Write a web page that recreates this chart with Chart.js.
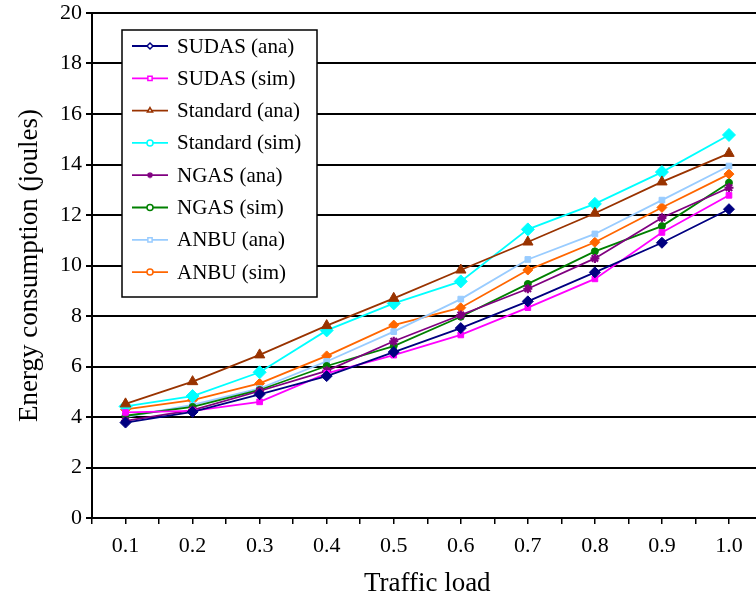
<!DOCTYPE html>
<html>
<head>
<meta charset="utf-8">
<script src="https://cdn.jsdelivr.net/npm/chart.js"></script>
<style>
  html, body { margin: 0; padding: 0; background: #fff; overflow: hidden; }
  #wrap { width: 770px; height: 600px; }
</style>
</head>
<body>
<div id="wrap"><canvas id="energyChart" width="770" height="600"></canvas></div>
<script>
// Traffic load categories (x axis labels)
const loads = ['0.1', '0.2', '0.3', '0.4', '0.5', '0.6', '0.7', '0.8', '0.9', '1.0'];

// Energy consumption (joules)
const sudasAna    = [3.78, 4.20, 4.90, 5.62, 6.57, 7.52, 8.58, 9.73, 10.90, 12.23];
const sudasSim    = [4.18, 4.24, 4.60, 5.73, 6.45, 7.25, 8.33, 9.47, 11.31, 12.78];
const standardAna = [4.52, 5.40, 6.46, 7.62, 8.70, 9.82, 10.93, 12.07, 13.31, 14.44];
const standardSim = [4.42, 4.83, 5.77, 7.43, 8.50, 9.37, 11.43, 12.44, 13.70, 15.17];
const ngasAna     = [3.85, 4.27, 5.03, 5.83, 7.00, 8.04, 9.08, 10.28, 11.89, 13.08];
const ngasSim     = [4.05, 4.40, 5.07, 6.02, 6.81, 7.97, 9.27, 10.56, 11.56, 13.28];
const anbuAna     = [4.00, 4.48, 5.13, 6.20, 7.38, 8.67, 10.24, 11.25, 12.59, 13.94];
const anbuSim     = [4.30, 4.67, 5.33, 6.42, 7.64, 8.33, 9.82, 10.92, 12.30, 13.62];

const yTicksMin = 0;
const yTicksMax = 20;
const yStep = 2;

const serif = '"Liberation Serif", "Times New Roman", serif';

const toPoints = (vals) => vals.map((v, i) => ({ x: parseFloat(loads[i]), y: v }));

function series(label, vals, color, style, radius, legendStyle) {
    return {
        label: label,
        data: toPoints(vals),
        borderColor: color,
        backgroundColor: color,
        borderWidth: 1.8,
        pointStyle: style,
        pointRadius: radius,
        pointBorderWidth: style === 'star' ? 2.2 : 1,
        pointBackgroundColor: color,
        pointBorderColor: color,
        legendStyle: legendStyle || style,
        tension: 0
    };
}

const datasets = [
    series('SUDAS (ana)', sudasAna, '#000080', 'rectRot', 5.5),
    series('SUDAS (sim)', sudasSim, '#ff00ff', 'rect', 4),
    series('Standard (ana)', standardAna, '#993300', 'triangle', 6),
    series('Standard (sim)', standardSim, '#00ffff', 'rectRot', 6.5, 'circle'),
    series('NGAS (ana)', ngasAna, '#800080', 'star', 4.5),
    series('NGAS (sim)', ngasSim, '#008000', 'circle', 3.5),
    series('ANBU (ana)', anbuAna, '#99ccff', 'rect', 4),
    series('ANBU (sim)', anbuSim, '#ff6600', 'rectRot', 5, 'circle')
];

// legend box drawn inside the plot area
const boxLegend = {
    id: 'boxLegend',
    afterDatasetsDraw(chart) {
        const ctx = chart.ctx;
        const left = 122, top = 30, w = 195, h = 267;
        ctx.save();
        ctx.fillStyle = '#fff';
        ctx.fillRect(left, top, w, h);
        ctx.strokeStyle = '#000';
        ctx.lineWidth = 1.5;
        ctx.strokeRect(left, top, w, h);
        ctx.font = '21px ' + serif;
        ctx.textBaseline = 'middle';
        chart.data.datasets.forEach((ds, i) => {
            const y = top + 16 + i * 32.3;
            ctx.strokeStyle = ds.borderColor;
            ctx.lineWidth = 1.8;
            ctx.beginPath();
            ctx.moveTo(132, y);
            ctx.lineTo(168, y);
            ctx.stroke();
            ctx.fillStyle = '#fff';
            ctx.strokeStyle = ds.borderColor;
            ctx.lineWidth = 1.5;
            Chart.helpers.drawPoint(ctx, { pointStyle: ds.legendStyle, radius: 3, rotation: 0, borderWidth: 1.5 }, 150, y);
            ctx.fillStyle = '#000';
            ctx.fillText(ds.label, 177, y + 1);
        });
        ctx.restore();
    }
};

new Chart(document.getElementById('energyChart').getContext('2d'), {
    type: 'line',
    data: { datasets: datasets },
    plugins: [boxLegend],
    options: {
        responsive: false,
        animation: false,
        layout: { padding: { top: 13, right: 5, left: 14, bottom: 0 } },
        plugins: { legend: { display: false }, tooltip: { enabled: false } },
        scales: {
            x: {
                type: 'linear',
                min: 0.05,
                max: 1.05,
                border: { display: true, color: '#000', width: 2 },
                grid: { drawOnChartArea: false, drawTicks: true, tickLength: 6, color: '#000', lineWidth: 1.5 },
                ticks: {
                    stepSize: 0.05,
                    autoSkip: false,
                    maxRotation: 0,
                    padding: 9,
                    color: '#000',
                    font: { family: serif, size: 22 },
                    callback: (v) => {
                        const hit = loads.find(l => Math.abs(parseFloat(l) - v) < 1e-6);
                        return hit || '';
                    }
                },
                title: {
                    display: true,
                    text: 'Traffic load',
                    color: '#000',
                    font: { family: serif, size: 27 },
                    padding: { top: 6, bottom: 0 }
                },
                afterFit: (s) => { s.height = 82; s.paddingRight = 0; }
            },
            y: {
                min: yTicksMin,
                max: yTicksMax,
                border: { display: true, color: '#000', width: 2 },
                grid: { color: '#000', lineWidth: 2, tickLength: 6 },
                ticks: {
                    stepSize: yStep,
                    padding: 4,
                    color: '#000',
                    font: { family: serif, size: 22 }
                },
                title: {
                    display: true,
                    text: 'Energy consumption (joules)',
                    color: '#000',
                    font: { family: serif, size: 27 },
                    padding: { top: 0, bottom: 8 }
                },
                afterFit: (s) => { s.width = 78; s.paddingTop = 0; }
            }
        }
    }
});
</script>
</body>
</html>
